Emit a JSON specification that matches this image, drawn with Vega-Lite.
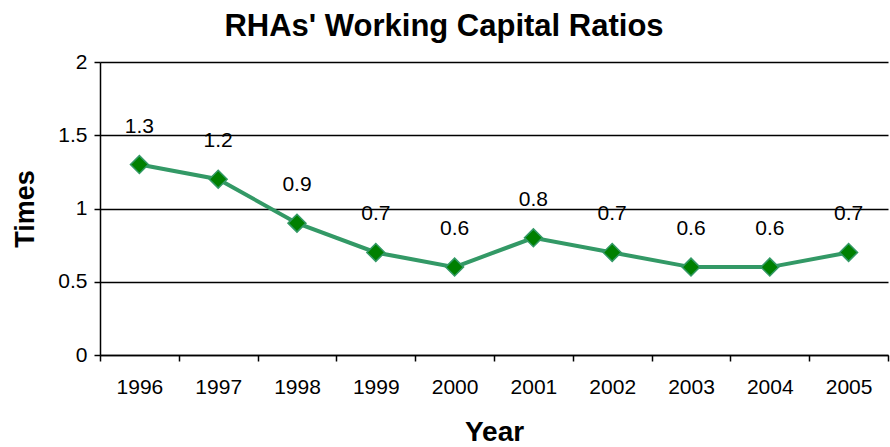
{
  "$schema": "https://vega.github.io/schema/vega-lite/v6.json",
  "width": 788,
  "height": 293,
  "autosize": "none",
  "padding": {"left": 100, "top": 62, "right": 2, "bottom": 92},
  "background": "white",
  "title": {"text": "RHAs' Working Capital Ratios", "font": "Liberation Sans", "fontSize": 31, "fontWeight": "bold", "color": "black", "dx": -50, "offset": 8},
  "data": {"values": [
    {"Year": "1996", "Ratio": 1.3},
    {"Year": "1997", "Ratio": 1.2},
    {"Year": "1998", "Ratio": 0.9},
    {"Year": "1999", "Ratio": 0.7},
    {"Year": "2000", "Ratio": 0.6},
    {"Year": "2001", "Ratio": 0.8},
    {"Year": "2002", "Ratio": 0.7},
    {"Year": "2003", "Ratio": 0.6},
    {"Year": "2004", "Ratio": 0.6},
    {"Year": "2005", "Ratio": 0.7}
  ]},
  "encoding": {
    "x": {"field": "Year", "type": "ordinal", "scale": {"type": "band", "paddingInner": 0, "paddingOuter": 0},
      "axis": {"title": "Year", "labelAngle": 0, "tickBand": "extent", "domainColor": "black", "domainWidth": 1.5, "tickColor": "black", "tickWidth": 1.5, "tickSize": 6, "labelFont": "Liberation Sans", "labelFontSize": 21, "labelColor": "black", "labelPadding": 15, "titleFont": "Liberation Sans", "titleFontSize": 28, "titleFontWeight": "bold", "titleColor": "black", "titlePadding": 21, "grid": false}},
    "y": {"field": "Ratio", "type": "quantitative", "scale": {"domain": [0, 2], "nice": false},
      "axis": {"title": "Times", "values": [0, 0.5, 1, 1.5, 2], "format": ".1~f", "grid": true, "gridColor": "black", "gridWidth": 1.5, "gridOpacity": 1, "domainColor": "black", "domainWidth": 1.5, "tickColor": "black", "tickWidth": 1.5, "tickSize": 6, "labelFont": "Liberation Sans", "labelFontSize": 21, "labelColor": "black", "labelPadding": 7, "titleFont": "Liberation Sans", "titleFontSize": 27, "titleFontWeight": "bold", "titleColor": "black", "titlePadding": 18}}
  },
  "layer": [
    {"mark": {"type": "line", "color": "#339966", "strokeWidth": 4}},
    {"mark": {"type": "point", "shape": "diamond", "size": 320, "filled": true, "fill": "#008000", "stroke": "#339966", "strokeWidth": 1.5, "opacity": 1}},
    {"mark": {"type": "text", "dy": -38, "font": "Liberation Sans", "fontSize": 21, "color": "black"}, "encoding": {"text": {"field": "Ratio", "type": "quantitative", "format": ".1f"}}}
  ],
  "config": {"view": {"stroke": null}}
}
